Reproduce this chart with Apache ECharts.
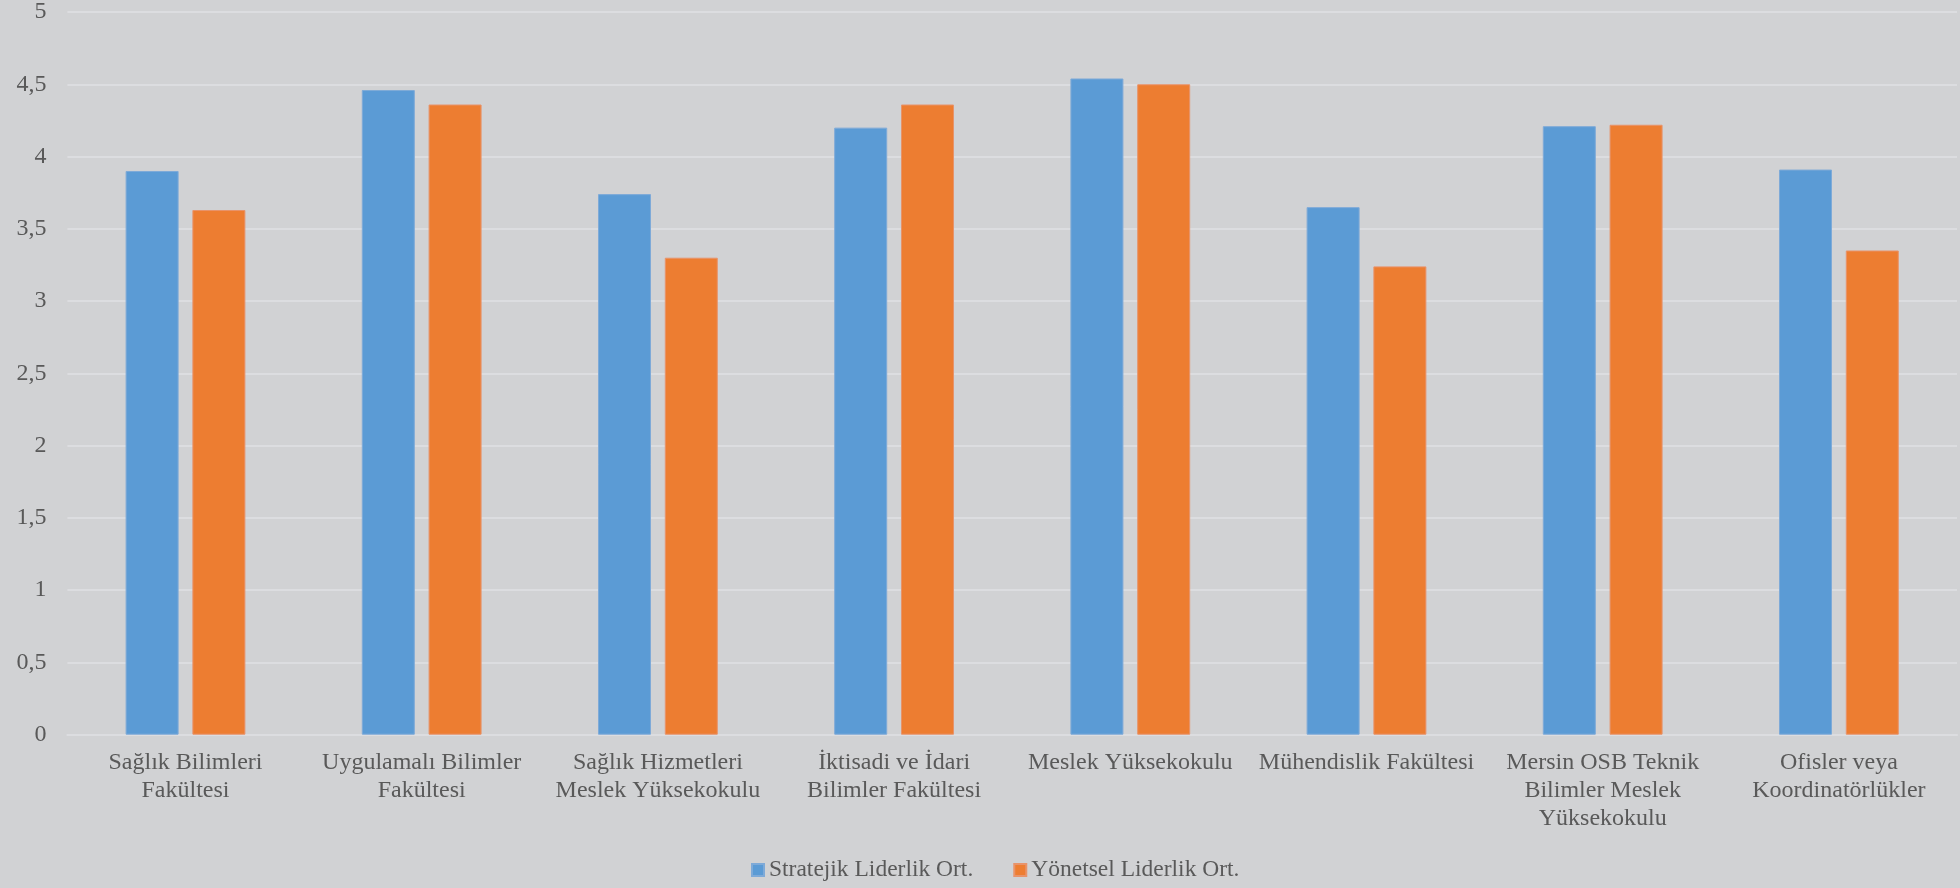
<!DOCTYPE html>
<html>
<head>
<meta charset="utf-8">
<script src="https://cdn.jsdelivr.net/npm/echarts@6/dist/echarts.min.js"></script>
<style>
html,body{margin:0;padding:0;background:#d1d2d4;}
#chart{width:1960px;height:888px;}
</style>
</head>
<body>
<div id="chart"></div>
<script>
const categories = [
  "Sağlık Bilimleri\nFakültesi",
  "Uygulamalı Bilimler\nFakültesi",
  "Sağlık Hizmetleri\nMeslek Yüksekokulu",
  "İktisadi ve İdari\nBilimler Fakültesi",
  "Meslek Yüksekokulu",
  "Mühendislik Fakültesi",
  "Mersin OSB Teknik\nBilimler Meslek\nYüksekokulu",
  "Ofisler veya\nKoordinatörlükler"
];
const seriesNames = ["Stratejik Liderlik Ort.", "Yönetsel Liderlik Ort."];
const stratejik = [3.90, 4.46, 3.74, 4.20, 4.54, 3.65, 4.21, 3.91];
const yonetsel  = [3.63, 4.36, 3.30, 4.36, 4.50, 3.24, 4.22, 3.35];

const FONT = '"Liberation Serif", "Times New Roman", serif';
const TXT = '#595959';

const chart = echarts.init(document.getElementById('chart'), null, {renderer: 'canvas'});
chart.setOption({
  backgroundColor: '#d1d2d4',
  animation: false,
  textStyle: {fontFamily: FONT},
  grid: {left: 67.4, right: 3, top: 12, bottom: 153.3, containLabel: false},
  legend: {
    data: seriesNames,
    left: 746,
    top: 853,
    itemWidth: 12,
    itemHeight: 12,
    itemGap: 40,
    icon: 'rect',
    textStyle: {fontFamily: FONT, fontSize: 23.5, color: TXT, padding: [0,0,0,0]}
  },
  xAxis: {
    type: 'category',
    data: categories,
    axisLine: {show: true, lineStyle: {color: '#dcdde0', width: 2}},
    axisTick: {show: false},
    axisLabel: {
      interval: 0,
      margin: 14,
      fontFamily: FONT,
      fontSize: 24,
      lineHeight: 28,
      color: TXT,
      align: 'center'
    }
  },
  yAxis: {
    type: 'value',
    min: 0,
    max: 5,
    interval: 0.5,
    axisLine: {show: false},
    axisTick: {show: false},
    splitLine: {lineStyle: {color: '#dcdde0', width: 2}},
    axisLabel: {
      margin: 21,
      fontFamily: FONT,
      fontSize: 24,
      color: TXT,
      formatter: v => String(v).replace('.', ',')
    }
  },
  series: [
    {
      name: seriesNames[0],
      type: 'bar',
      data: stratejik,
      barWidth: 53,
      barGap: '26%',
      itemStyle: {color: '#5b9bd5', borderColor: '#7eaad8', borderWidth: 1}
    },
    {
      name: seriesNames[1],
      type: 'bar',
      data: yonetsel,
      barWidth: 53,
      barGap: '26%',
      itemStyle: {color: '#ed7d31', borderColor: '#e8936a', borderWidth: 1}
    }
  ]
});
</script>
</body>
</html>
